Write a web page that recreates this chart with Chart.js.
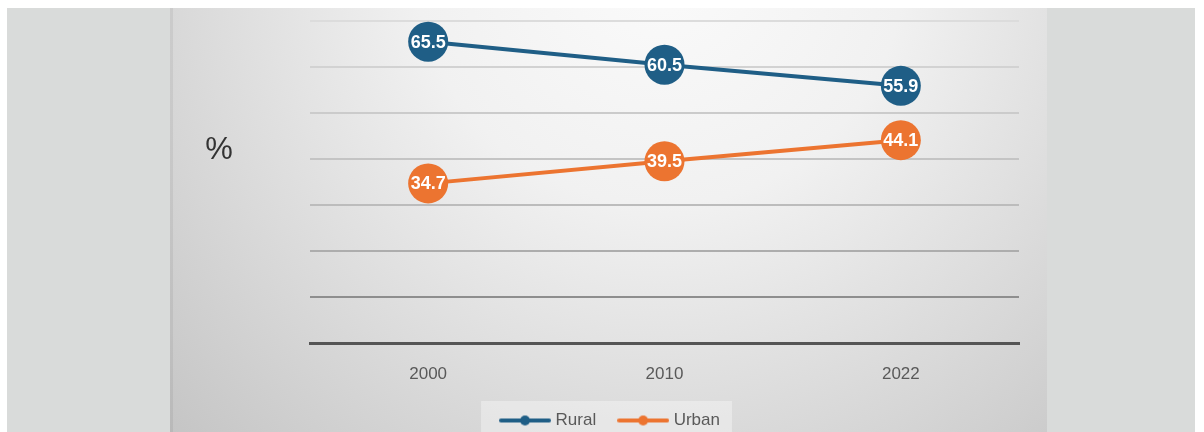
<!DOCTYPE html>
<html>
<head>
<meta charset="utf-8">
<script src="https://cdn.jsdelivr.net/npm/chart.js@4/dist/chart.umd.min.js"></script>
<style>
  html, body { margin: 0; padding: 0; background: #ffffff; overflow: hidden; }
  #wrap { width: 1204px; height: 432px; overflow: hidden; }
</style>
</head>
<body>
<div id="wrap">
  <canvas id="chart" width="1204" height="439"></canvas>
</div>
<script>
const years = ["2000", "2010", "2022"];
const rural = [65.5, 60.5, 55.9];
const urban = [34.7, 39.5, 44.1];
const yTicks = [0, 10, 20, 30, 40, 50, 60, 70];

const RURAL_COLOR = "#1f5e86";
const URBAN_COLOR = "#ec7430";
const FONT = "'Liberation Sans', Arial, sans-serif";

// gridline shade gets darker towards the bottom of the plot
const gridShades = {
  0: "rgba(0,0,0,0)", 10: "#8e8e8e", 20: "#adadad", 30: "#bcbcbc",
  40: "#c4c4c4", 50: "#cbcbcb", 60: "#d2d2d2", 70: "#dcdcdc"
};

// legend swatch: short line with a dot in the middle
function swatch(color) {
  const c = document.createElement("canvas");
  c.width = 52; c.height = 12;
  const g = c.getContext("2d");
  g.strokeStyle = color;
  g.lineWidth = 4;
  g.lineCap = "round";
  g.beginPath(); g.moveTo(2, 6); g.lineTo(50, 6); g.stroke();
  g.fillStyle = color;
  g.beginPath(); g.arc(26, 6, 5, 0, Math.PI * 2); g.fill();
  return c;
}

const backdrop = {
  id: "backdrop",
  afterLayout(chart) {
    // legend sits a little left of the plot centre
    chart.legend.left -= 53;
    chart.legend.right -= 53;
  },
  beforeDraw(chart) {
    const ctx = chart.ctx;
    ctx.save();
    ctx.fillStyle = "#ffffff";
    ctx.fillRect(0, 0, chart.width, chart.height);
    ctx.fillStyle = "#d9dbda";
    ctx.fillRect(7, 8, 1188, chart.height);

    const grad = ctx.createRadialGradient(660, -40, 0, 660, -40, 700);
    grad.addColorStop(0, "#fbfbfb");
    grad.addColorStop(0.35, "#f1f1f1");
    grad.addColorStop(1, "#c3c3c3");
    ctx.fillStyle = grad;
    ctx.fillRect(170, 8, 877, chart.height);
    ctx.fillStyle = "rgba(0,0,0,0.06)";
    ctx.fillRect(170, 8, 3, chart.height);

    // legend panel
    const boxes = chart.legend.legendHitBoxes;
    if (boxes && boxes.length) {
      const left = Math.min(...boxes.map(b => b.left)) - 22;
      const right = Math.max(...boxes.map(b => b.left + b.width)) + 12;
      const top = boxes[0].top - 11;
      ctx.fillStyle = "rgba(255,255,255,0.35)";
      ctx.fillRect(left, top, right - left, chart.height - top);
    }

    ctx.fillStyle = "#333333";
    ctx.font = "31px " + FONT;
    ctx.textAlign = "center";
    ctx.textBaseline = "middle";
    ctx.fillText("%", 219, 150);
    ctx.restore();
  }
};

const valueLabels = {
  id: "valueLabels",
  afterDatasetsDraw(chart) {
    const ctx = chart.ctx;
    ctx.save();
    ctx.fillStyle = "#ffffff";
    ctx.font = "bold 18px " + FONT;
    ctx.textAlign = "center";
    ctx.textBaseline = "middle";
    chart.data.datasets.forEach((ds, i) => {
      chart.getDatasetMeta(i).data.forEach((pt, j) => {
        ctx.fillText(ds.data[j].toFixed(1), pt.x, pt.y + 1);
      });
    });
    ctx.restore();
  }
};

new Chart(document.getElementById("chart"), {
  type: "line",
  data: {
    labels: years,
    datasets: [
      {
        label: "Rural",
        data: rural,
        borderColor: RURAL_COLOR,
        backgroundColor: RURAL_COLOR,
        borderWidth: 4,
        pointRadius: 20,
        pointHoverRadius: 20,
        pointBorderWidth: 0,
        clip: false
      },
      {
        label: "Urban",
        data: urban,
        borderColor: URBAN_COLOR,
        backgroundColor: URBAN_COLOR,
        borderWidth: 4,
        pointRadius: 20,
        pointHoverRadius: 20,
        pointBorderWidth: 0,
        clip: false
      }
    ]
  },
  options: {
    responsive: false,
    animation: false,
    layout: { padding: { left: 310, right: 185, top: 21, bottom: 0 } },
    scales: {
      x: {
        offset: true,
        grid: { display: false, drawTicks: false },
        border: { display: true, color: "#555555", width: 3 },
        ticks: {
          color: "#595959",
          padding: 21,
          font: { family: FONT, size: 17 }
        },
        afterFit(scale) { scale.height = 44; }
      },
      y: {
        min: 0,
        max: 70,
        afterBuildTicks(scale) { scale.ticks = yTicks.map(v => ({ value: v })); },
        ticks: { display: false },
        border: { display: false },
        grid: {
          drawTicks: false,
          lineWidth: 2,
          color: ctx => gridShades[ctx.tick.value]
        },
        afterFit(scale) { scale.width = 0; }
      }
    },
    plugins: {
      tooltip: { enabled: false },
      legend: {
        position: "bottom",
        labels: {
          usePointStyle: true,
          pointStyleWidth: 44,
          padding: 25,
          color: "#595959",
          font: { family: FONT, size: 17 },
          generateLabels(chart) {
            return chart.data.datasets.map((ds, i) => ({
              text: ds.label,
              pointStyle: swatch(ds.borderColor),
              fillStyle: ds.borderColor,
              strokeStyle: ds.borderColor,
              lineWidth: 0,
              fontColor: "#595959",
              hidden: false,
              datasetIndex: i
            }));
          }
        }
      }
    }
  },
  plugins: [backdrop, valueLabels]
});
</script>
</body>
</html>
